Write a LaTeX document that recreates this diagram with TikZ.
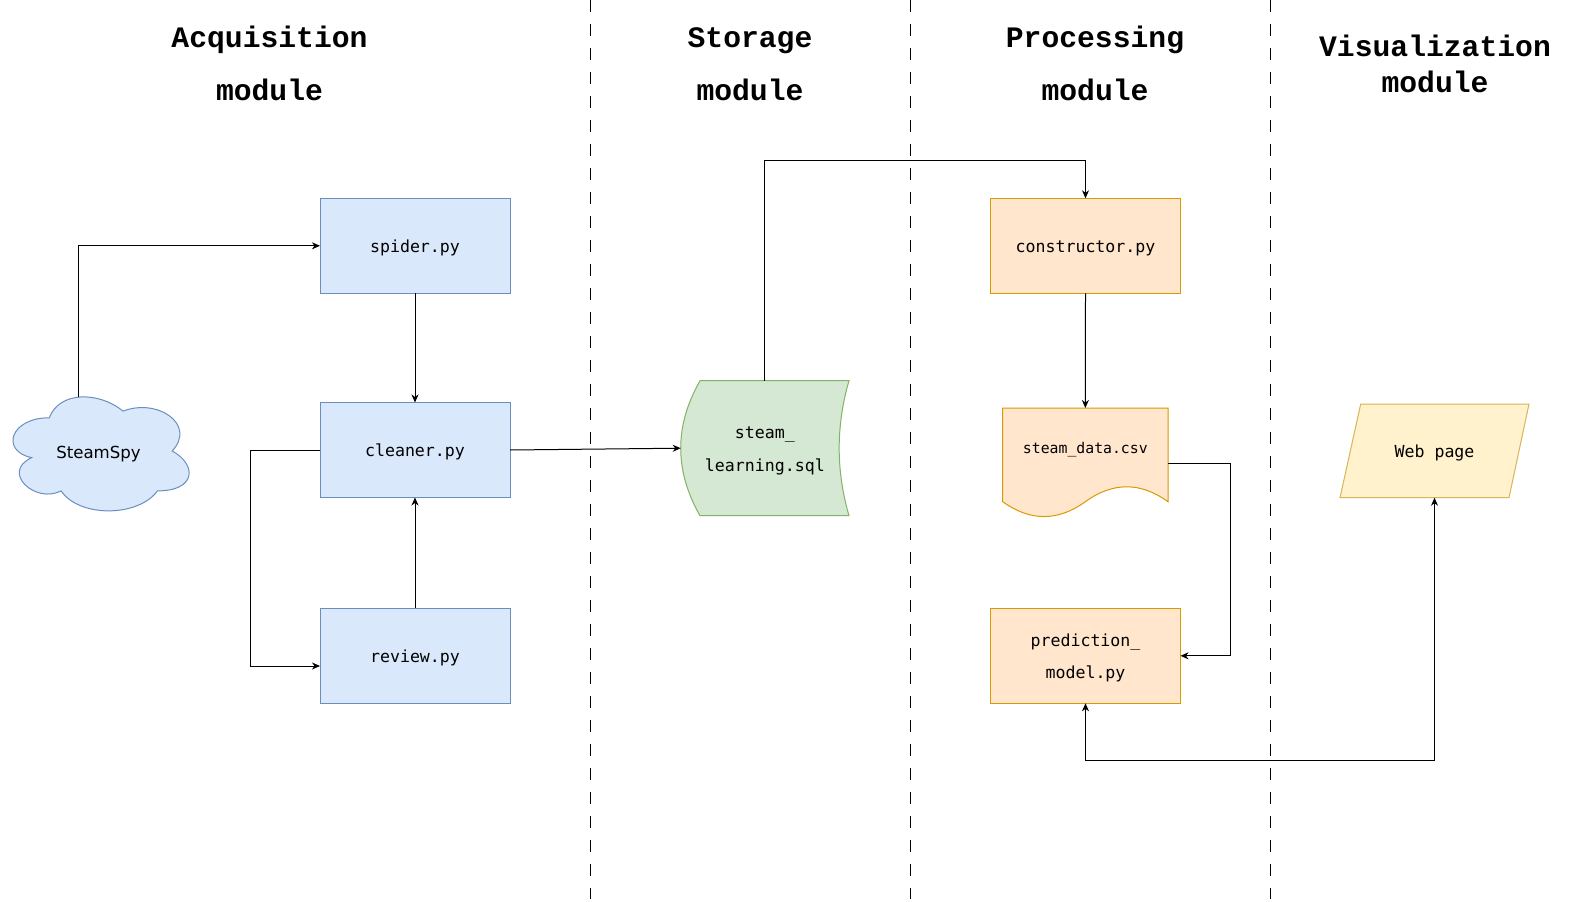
\documentclass[tikz,border=0pt]{standalone}
\usepackage{fontspec}
\setmainfont{DejaVu Sans Mono}
\newfontfamily\headfont{Liberation Mono}
\newfontfamily\cloudfont{DejaVu Sans}
\usetikzlibrary{arrows.meta}

\definecolor{blueFill}{HTML}{DAE8FC}
\definecolor{blueLine}{HTML}{6C8EBF}
\definecolor{greenFill}{HTML}{D5E8D4}
\definecolor{greenLine}{HTML}{82B366}
\definecolor{orangeFill}{HTML}{FFE6CC}
\definecolor{orangeLine}{HTML}{D79B00}
\definecolor{yellowFill}{HTML}{FFF2CC}
\definecolor{yellowLine}{HTML}{D6B656}

% tall strut that lowers box labels a little below the geometric centre
\newcommand\lift{\rule{0pt}{16.6pt}}

\begin{document}
\begin{tikzpicture}[x=1pt, y=-1pt,
  heading/.style={font=\headfont\bfseries\fontsize{29.7}{30}\selectfont, anchor=base, inner sep=0},
  codetext/.style={font=\fontsize{16.6}{32.6}\selectfont, align=center},
  pybox/.style={codetext, draw=blueLine, fill=blueFill, line width=1pt,
    minimum width=190, minimum height=95, inner sep=0, outer sep=0},
  procbox/.style={pybox, draw=orangeLine, fill=orangeFill},
  frame/.style={codetext, minimum width=#1, inner sep=0, outer sep=0},
  separator/.style={line width=1pt, dash pattern=on 12pt off 12pt},
  tip/.tip={Stealth[length=8pt, width=7pt, inset=2.5pt]},
  conn/.style={line width=1pt, -tip},
  biconn/.style={line width=1pt, tip-tip}
]
\fill[white] (0,0) rectangle (1591,902);
\path[use as bounding box] (0,0) rectangle (1591,902);

% column separators
\draw[separator] (590.5,0) -- (590.5,899);
\draw[separator] (910,0) -- (910,899);
\draw[separator] (1270,0) -- (1270,899);

% column headings
\node[heading] (hAcq) at (269.5,47) {Acquisition};
\node[heading] (hAcqM) at (269.5,100.5) {module};
\node[heading] (hSto) at (750,47) {Storage};
\node[heading] (hStoM) at (750,100.5) {module};
\node[heading] (hPro) at (1095,47) {Processing};
\node[heading] (hProM) at (1095,100.5) {module};
\node[heading] (hVis) at (1435,56) {Visualization};
\node[heading] (hVisM) at (1435,92.6) {module};

% SteamSpy cloud outline
\draw[blueLine, fill=blueFill, line width=1pt]
  (49.35,417.75) .. controls (10.03,417.75) and (0.2,451) .. (31.66,457.65)
  .. controls (0.2,472.28) and (35.59,504.2) .. (61.15,490.9)
  .. controls (78.84,517.5) and (137.82,517.5) .. (157.48,490.9)
  .. controls (196.8,490.9) and (196.8,464.3) .. (172.23,451)
  .. controls (196.8,424.4) and (157.48,397.8) .. (123.08,411.1)
  .. controls (98.5,391.15) and (59.18,391.15) .. (49.35,417.75) -- cycle;
\node[font=\cloudfont\fontsize{16.6}{20}\selectfont, inner sep=0] (steamspy) at (98.5,454) {SteamSpy};
\coordinate (cloudtop) at (78.3,397.3);

% stored data shape
\draw[greenLine, fill=greenFill, line width=1pt]
  (700,380.7) -- (849,380.7)
  .. controls (835.9,425.7) and (835.9,470.7) .. (849,515.7)
  -- (700,515.7)
  .. controls (674.3,470.7) and (674.3,425.7) .. (700,380.7) -- cycle;

% document shape
\draw[orangeLine, fill=orangeFill, line width=1pt]
  (1002.7,408) -- (1168,408) -- (1168,501.7)
  .. controls (1140.47,481.83) and (1112.9,481.83) .. (1085.35,501.7)
  .. controls (1057.8,521.5) and (1030.2,521.5) .. (1002.7,501.7) -- cycle;

% parallelogram shape
\draw[yellowLine, fill=yellowFill, line width=1pt]
  (1360.7,404) -- (1529,404) -- (1509,497.7) -- (1340,497.7) -- cycle;

% process boxes
\node[pybox] (spider) at (415,245.8) {\lift spider.py};
\node[pybox] (cleaner) at (415,450) {\lift cleaner.py};
\node[pybox] (review) at (415,655.8) {\lift review.py};
\node[procbox] (constructor) at (1085.5,245.8) {\lift constructor.py};
\node[procbox] (predict) at (1085.5,655.8) {\lift prediction\_\\model.py};

% text frames over the drawn shapes
\node[frame=168.3, minimum height=135] (sql) at (764.85,448.2) {\lift steam\_\\learning.sql};
\node[frame=165.3, minimum height=110.2] (csv) at (1085.35,463.1) {};
\node[font=\fontsize{14.8}{18}\selectfont, inner sep=0] (csvname) at (1085.35,450) {steam\_data.csv};
\node[frame=189, minimum height=93.7] (web) at (1434.5,450.85) {\lift Web page};

\coordinate (topbus) at (0,160.7);

% connectors
\draw[conn] (cloudtop) |- (spider.west);
\draw[conn] (spider.south) -- (cleaner.north);
\draw[conn] (cleaner.west) -- ++(-70,0) |- ([yshift=-10.2pt]review.west);
\draw[conn] (review.north) -- (cleaner.south);
\draw[conn] (cleaner.east) -- (sql.west);
\draw[conn] (sql.north) -- (sql.north |- topbus) -| (constructor.north);
\draw[conn] (constructor.south) -- (csv.north);
\draw[conn] (csv.east) -- ++(62,0) |- (predict.east);
\draw[biconn] (predict.south) -- ++(0,56.7) -| (web.south);
\end{tikzpicture}
\end{document}
